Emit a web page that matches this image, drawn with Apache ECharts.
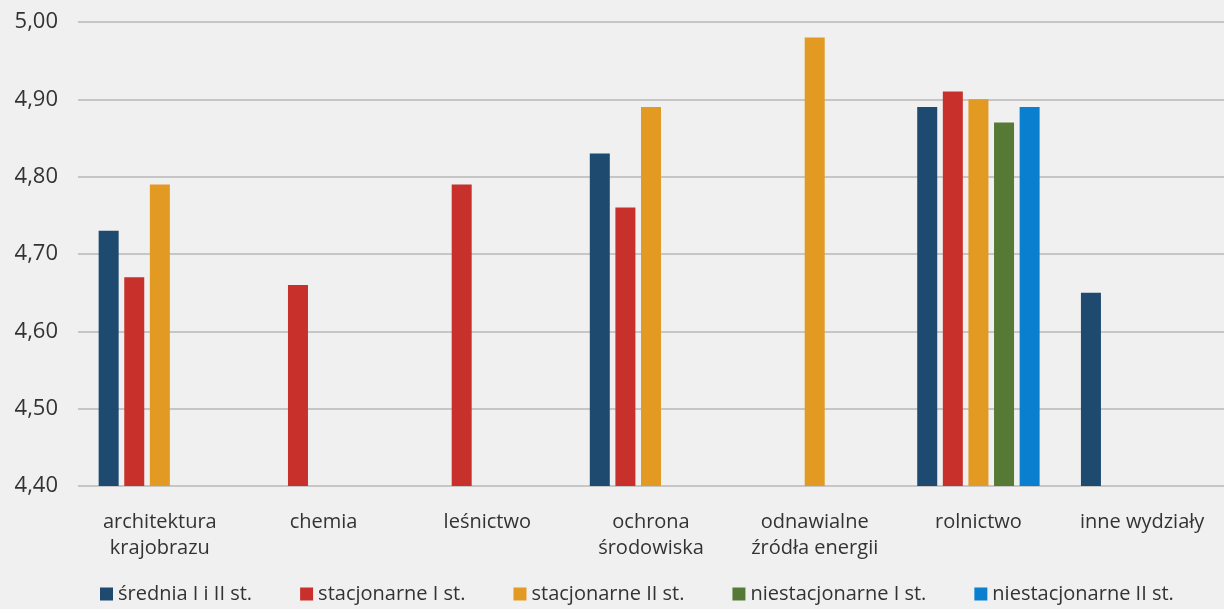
<!DOCTYPE html>
<html><head><meta charset="utf-8">
<script src="https://cdn.jsdelivr.net/npm/echarts@6/dist/echarts.min.js"></script>
<style>html,body{margin:0;padding:0;background:#f0f0f0;}#c{width:1224px;height:609px;}</style>
</head><body><div id="c"></div>
<script>
const categories = ["architektura\nkrajobrazu","chemia","leśnictwo","ochrona\nśrodowiska","odnawialne\nźródła energii","rolnictwo","inne wydziały"];
const seriesNames = ["średnia I i II st.","stacjonarne I st.","stacjonarne II st.","niestacjonarne I st.","niestacjonarne II st."];
const sredniaIiII = [4.73, null, null, 4.83, null, 4.89, 4.65];
const stacjonarneI = [4.67, 4.66, 4.79, 4.76, null, 4.91, null];
const stacjonarneII = [4.79, null, null, 4.89, 4.98, 4.90, null];
const niestacjonarneI = [null, null, null, null, null, 4.87, null];
const niestacjonarneII = [null, null, null, null, null, 4.89, null];
const colors = ["#1d4a6e","#c8302c","#e39a22","#567a36","#0b7fcf"];
const values = [sredniaIiII, stacjonarneI, stacjonarneII, niestacjonarneI, niestacjonarneII];
const font = "'Open Sans', sans-serif";
const chart = echarts.init(document.getElementById('c'));
chart.setOption({
  backgroundColor: '#f0f0f0',
  animation: false,
  color: colors,
  grid: {left: 78, right: -12, top: 22, bottom: 123},
  legend: {
    bottom: 0, left: 95, itemWidth: 13, itemHeight: 13, itemGap: 48,
    icon: 'rect',
    textStyle: {fontFamily: font, fontSize: 20, color: '#333'}
  },
  xAxis: {
    type: 'category', data: categories,
    axisLine: {show: false}, axisTick: {show: false},
    axisLabel: {interval: 0, fontFamily: font, fontSize: 20, color: '#333', lineHeight: 26, margin: 23}
  },
  yAxis: {
    type: 'value', min: 4.4, max: 5.0, interval: 0.1,
    axisLine: {show: false}, axisTick: {show: false},
    splitLine: {lineStyle: {color: '#b9b9b9', width: 1.5}},
    axisLabel: {fontFamily: font, fontSize: 22, color: '#333', margin: 20,
      formatter: v => v.toFixed(2).replace('.', ',')}
  },
  series: seriesNames.map((n, i) => ({
    name: n, type: 'bar', data: values[i], barWidth: 20, barGap: '28%'
  }))
});
</script></body></html>
